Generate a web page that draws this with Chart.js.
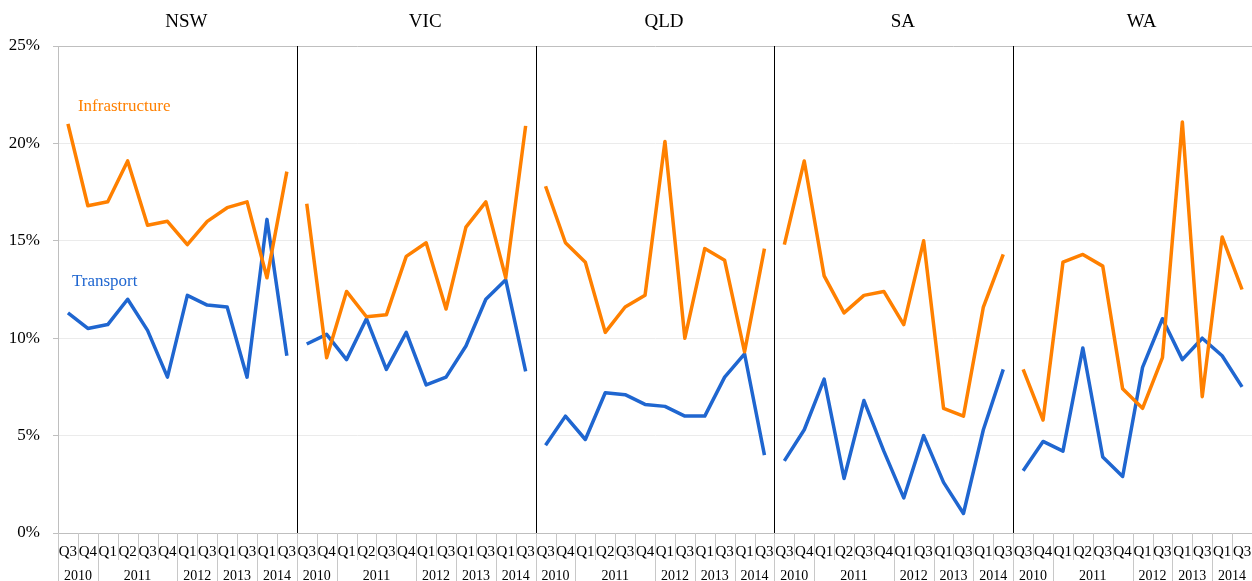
<!DOCTYPE html>
<html>
<head>
<meta charset="utf-8">
<script src="https://cdn.jsdelivr.net/npm/chart.js@4.4.1/dist/chart.umd.min.js"></script>
<style>
  html, body { margin: 0; padding: 0; background: #fff; }
  #wrap { width: 1252px; height: 581px; position: relative; }
</style>
</head>
<body>
<div id="wrap"><canvas id="c" width="1252" height="581"></canvas></div>
<script>
// States shown as panels, left to right
const states = ['NSW', 'VIC', 'QLD', 'SA', 'WA'];

// Quarter labels within each panel, and the year each quarter belongs to
const quarters = ['Q3', 'Q4', 'Q1', 'Q2', 'Q3', 'Q4', 'Q1', 'Q3', 'Q1', 'Q3', 'Q1', 'Q3'];
const years    = ['2010', '2010', '2011', '2011', '2011', '2011', '2012', '2012', '2013', '2013', '2014', '2014'];

// Y-axis tick labels (percent)
const yTicks = [0, 5, 10, 15, 20, 25];

// Infrastructure share (%) by state
const nswInfra = [21.0, 16.8, 17.0, 19.1, 15.8, 16.0, 14.8, 16.0, 16.7, 17.0, 13.1, 18.55];
const vicInfra = [16.9, 9.0, 12.4, 11.1, 11.2, 14.2, 14.9, 11.5, 15.7, 17.0, 13.1, 20.9];
const qldInfra = [17.8, 14.9, 13.9, 10.3, 11.6, 12.2, 20.1, 10.0, 14.6, 14.0, 9.3, 14.6];
const saInfra  = [14.8, 19.1, 13.2, 11.3, 12.2, 12.4, 10.7, 15.0, 6.4, 6.0, 11.6, 14.3];
const waInfra  = [8.4, 5.8, 13.9, 14.3, 13.7, 7.4, 6.4, 9.0, 21.1, 7.0, 15.2, 12.5];

// Transport share (%) by state
const nswTransport = [11.3, 10.5, 10.7, 12.0, 10.4, 8.0, 12.2, 11.7, 11.6, 8.0, 16.1, 9.1];
const vicTransport = [9.7, 10.2, 8.9, 11.0, 8.4, 10.3, 7.6, 8.0, 9.6, 12.0, 13.0, 8.3];
const qldTransport = [4.5, 6.0, 4.8, 7.2, 7.1, 6.6, 6.5, 6.0, 6.0, 8.0, 9.2, 4.0];
const saTransport  = [3.7, 5.3, 7.9, 2.8, 6.8, 4.2, 1.8, 5.0, 2.6, 1.0, 5.3, 8.4];
const waTransport  = [3.2, 4.7, 4.2, 9.5, 3.9, 2.9, 8.5, 11.0, 8.9, 10.0, 9.1, 7.5];

const infraByState = [nswInfra, vicInfra, qldInfra, saInfra, waInfra];
const transportByState = [nswTransport, vicTransport, qldTransport, saTransport, waTransport];

const ORANGE = '#ff8000';
const BLUE = '#1f66d0';
const SERIF = "'Liberation Serif', 'Times New Roman', serif";
const N = quarters.length;

// One long category axis: the quarters repeated for each state
const labels = [];
states.forEach(() => quarters.forEach(q => labels.push(q)));

// Each state/series is its own dataset so lines break between panels
function panelSeries(values, panel) {
  const arr = new Array(states.length * N).fill(null);
  values.forEach((v, i) => { arr[panel * N + i] = v; });
  return arr;
}

const datasets = [];
states.forEach((s, p) => {
  datasets.push({ label: 'Infrastructure ' + s, data: panelSeries(infraByState[p], p), borderColor: ORANGE });
  datasets.push({ label: 'Transport ' + s, data: panelSeries(transportByState[p], p), borderColor: BLUE });
});
datasets.forEach(d => {
  d.borderWidth = 3.5;
  d.pointRadius = 0;
  d.tension = 0;
  d.spanGaps = false;
  d.fill = false;
  d.borderJoinStyle = 'round';
  d.borderCapStyle = 'butt';
});

// Draws panel titles, panel dividers, the two-level quarter/year axis and series labels
const panelsPlugin = {
  id: 'panels',
  afterDraw(chart) {
    const { ctx, chartArea } = chart;
    const xs = chart.scales.x;
    const ys = chart.scales.y;
    const step = xs.getPixelForValue(1) - xs.getPixelForValue(0);
    const total = states.length * N;
    const axisY = chartArea.bottom;
    const bottom = chart.height;

    ctx.save();

    // dividers between panels
    ctx.strokeStyle = '#000';
    ctx.lineWidth = 1;
    for (let p = 1; p < states.length; p++) {
      const x = Math.round(xs.getPixelForValue(p * N) - step / 2) + 0.5;
      ctx.beginPath();
      ctx.moveTo(x, chartArea.top);
      ctx.lineTo(x, axisY);
      ctx.stroke();
    }

    // panel titles
    ctx.fillStyle = '#000';
    ctx.font = '19px ' + SERIF;
    ctx.textAlign = 'center';
    ctx.textBaseline = 'middle';
    states.forEach((s, p) => {
      const cx = (xs.getPixelForValue(p * N) + xs.getPixelForValue(p * N + N - 1)) / 2 + 9;
      ctx.fillText(s, cx, 22);
    });

    // category separators in the label area
    ctx.strokeStyle = '#c8c8c8';
    for (let i = 0; i <= total; i++) {
      const x = Math.round(xs.getPixelForValue(i) - step / 2) + 0.5;
      const k = i % N;
      const long = i === 0 || i === total || k === 0 || years[k] !== years[k - 1];
      ctx.beginPath();
      ctx.moveTo(x, axisY);
      ctx.lineTo(x, long ? bottom : axisY + 27);
      ctx.stroke();
    }

    // quarter labels
    ctx.fillStyle = '#000';
    ctx.font = '15px ' + SERIF;
    for (let i = 0; i < total; i++) {
      ctx.fillText(labels[i], xs.getPixelForValue(i), axisY + 19);
    }

    // year labels, centred on their group
    ctx.font = '14px ' + SERIF;
    for (let p = 0; p < states.length; p++) {
      let start = 0;
      for (let k = 1; k <= N; k++) {
        if (k === N || years[k] !== years[start]) {
          const x0 = xs.getPixelForValue(p * N + start);
          const x1 = xs.getPixelForValue(p * N + k - 1);
          ctx.fillText(years[start], (x0 + x1) / 2, axisY + 43);
          start = k;
        }
      }
    }

    // series labels
    ctx.font = '17px ' + SERIF;
    ctx.textAlign = 'left';
    ctx.fillStyle = ORANGE;
    ctx.fillText('Infrastructure', xs.getPixelForValue(0) + 10, ys.getPixelForValue(21.9));
    ctx.fillStyle = BLUE;
    ctx.fillText('Transport', xs.getPixelForValue(0) + 4, ys.getPixelForValue(12.9));

    ctx.restore();
  }
};

new Chart(document.getElementById('c'), {
  type: 'line',
  data: { labels, datasets },
  options: {
    responsive: false,
    animation: false,
    events: [],
    layout: { padding: { top: 46, right: 0, left: 0, bottom: 0 } },
    plugins: { legend: { display: false }, tooltip: { enabled: false }, title: { display: false } },
    scales: {
      x: {
        type: 'category',
        offset: true,
        grid: { display: false },
        border: { display: false },
        ticks: { display: false },
        afterFit(scale) { scale.height = 48; }
      },
      y: {
        min: 0,
        max: 25,
        afterBuildTicks(scale) { scale.ticks = yTicks.map(v => ({ value: v })); },
        afterFit(scale) { scale.width = 58; },
        grid: {
          color: c => (c.tick && (c.tick.value === 25 || c.tick.value === 0)) ? '#bfbfbf' : '#ebebeb',
          tickColor: '#bfbfbf',
          tickLength: 5,
          lineWidth: 1
        },
        border: { display: true, color: '#bfbfbf' },
        ticks: {
          padding: 13,
          color: '#000',
          font: { family: SERIF, size: 17 },
          callback: v => v + '%'
        }
      }
    }
  },
  plugins: [panelsPlugin]
});
</script>
</body>
</html>
